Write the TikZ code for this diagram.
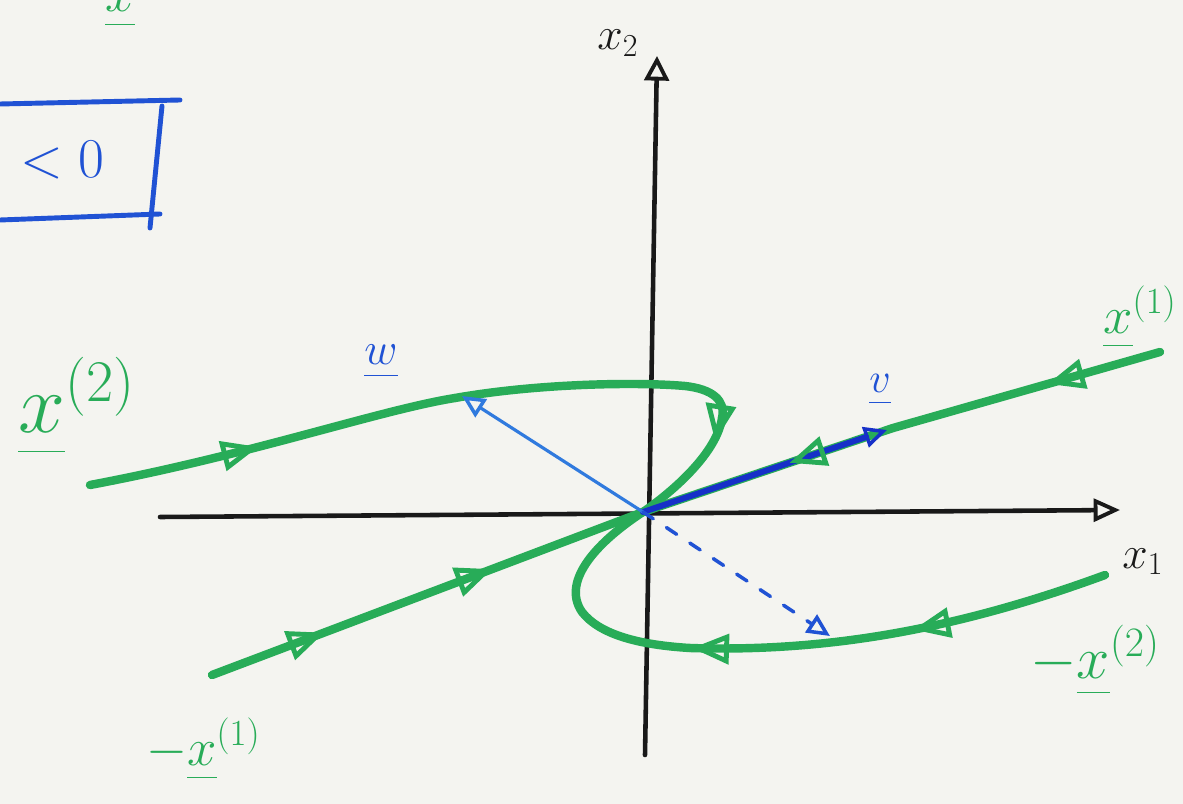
\documentclass[tikz,border=0pt]{standalone}
\usepackage{fix-cm}
\usetikzlibrary{arrows.meta,decorations.markings}
\definecolor{paper}{RGB}{244,244,240}
\definecolor{pen}{RGB}{40,172,88}
\definecolor{bluepen}{RGB}{32,82,212}
\definecolor{darkblue}{RGB}{22,48,200}
\definecolor{lightblue}{RGB}{48,122,222}
\definecolor{ink}{RGB}{25,25,25}
\newcommand{\uvec}[1]{\underline{#1\vphantom{y}}}
\begin{document}
\begin{tikzpicture}[x=0.02cm,y=-0.02cm,line cap=round,line join=round,
  traj/.style={draw=pen,line width=4.8pt},
  axis/.style={draw=ink,line width=2.6pt},
  gtip/.tip={Triangle[open,length=21pt,width=17pt,line width=2.8pt,color=pen]},
  btip/.tip={Triangle[open,length=13pt,width=12pt,line width=2pt]},
  ga/.style={postaction={decorate},decoration={markings,mark=at position #1 with {\arrow{gtip}}}},
  gaa/.style 2 args={postaction={decorate},decoration={markings,
     mark=at position #1 with {\arrow{gtip}},mark=at position #2 with {\arrow{gtip}}}},
  glabel/.style={text=pen,inner sep=0pt},
  blabel/.style={text=bluepen,inner sep=0pt},
  klabel/.style={text=ink,inner sep=0pt},
  boxline/.style={draw=bluepen,line width=2.8pt}]
\useasboundingbox (0,0) rectangle (1183,804);
\fill[paper] (0,0) rectangle (1183,804);

% named points
\coordinate (O) at (643,512);
\coordinate (x2top) at (657,56);
\coordinate (x2bot) at (645,755);
\coordinate (x1L) at (160,517);
\coordinate (x1R) at (1120,510);
\coordinate (e1) at (1160,352);
\coordinate (g1) at (893,428);
\coordinate (vtip) at (887,430);
\coordinate (e2) at (212,675);
\coordinate (wtip) at (462,396);
\coordinate (dtip) at (830,636);
\coordinate (a0) at (90,485);
\coordinate (a1) at (455,398);
\coordinate (a2) at (722,418);
\coordinate (hk1) at (722,398);
\coordinate (hk2) at (715,442);
\coordinate (b0) at (1105,575);
\coordinate (b1) at (690,648);

% box (partially outside)
\draw[boxline] (0,104) -- (180,100);
\draw[boxline] (162,106) -- (150,228);
\draw[boxline] (0,220) -- (160,214);
\node[blabel,anchor=base west,font=\fontsize{32}{36}\selectfont] (cond) at (20,178) {$<0$};

% partial label at the top
\node[glabel,anchor=base west,font=\fontsize{30}{34}\selectfont] (topx) at (64,12) {$-\uvec{x}$};

% axes
\draw[axis,-{Triangle[open,length=15pt,width=13pt,line width=2.2pt]}] (x1L) -- (x1R);
\draw[axis,-{Triangle[open,length=14pt,width=14pt,line width=2.2pt]}] (x2bot) -- (x2top);
\node[klabel,anchor=base west,font=\fontsize{26}{30}\selectfont] (lx2) at (597,50) {$x_2$};
\node[klabel,anchor=base west,font=\fontsize{26}{30}\selectfont] (lx1) at (1122,568) {$x_1$};

% eigen direction x^(1)
\draw[traj,ga=0.42] (e1) -- (g1);
\draw[traj] (g1) -- (O);
\draw[traj,gaa={0.26}{0.65}] (e2) -- (O);

% trajectory x^(2)
\draw[traj,ga=0.46] (a0) .. controls (250,455) and (380,410) .. (a1);
\draw[traj] (a1) .. controls (540,383) and (640,382) .. (685,386)
   .. controls (712,389) and (726,400) .. (a2);
\draw[traj] (a2) .. controls (717,452) and (675,490) .. (O);
\path[decorate,decoration={markings,mark=at position 0.98 with {\arrow{gtip}}}] (hk1) -- (hk2);
% trajectory -x^(2)
\draw[traj,gaa={0.47}{0.995}] (b0) .. controls (950,632) and (820,652) .. (b1);
\draw[traj] (b1) .. controls (640,645) and (600,635) .. (582,612)
   .. controls (560,580) and (600,540) .. (O);

% vectors
\draw[darkblue,line width=3.4pt,-{btip}] (O) -- (vtip);
\path[decorate,decoration={markings,mark=at position 0.4 with {\arrow{gtip}}}] (vtip) -- (O);
\draw[lightblue,line width=1.8pt,-{btip}] (O) -- (wtip);
\draw[bluepen,line width=2pt,dash pattern=on 7pt off 9pt,-{btip}] (O) -- (dtip);

% labels
\node[glabel,anchor=base west,font=\fontsize{48}{52}\selectfont] (lx2traj) at (18,432) {$\uvec{x}^{(2)}$};
\node[glabel,anchor=base west,font=\fontsize{30}{34}\selectfont] (lx1traj) at (1103,333) {$\uvec{x}^{(1)}$};
\node[glabel,anchor=base west,font=\fontsize{34}{38}\selectfont] (lmx2) at (1030,678) {$-\uvec{x}^{(2)}$};
\node[glabel,anchor=base west,font=\fontsize{30}{34}\selectfont] (lmx1) at (146,765) {$-\uvec{x}^{(1)}$};
\node[blabel,anchor=base,font=\fontsize{26}{30}\selectfont] (lw) at (381,364) {$\uvec{w}$};
\node[blabel,anchor=base,font=\fontsize{24}{28}\selectfont] (lv) at (880,392) {$\uvec{v}$};
\end{tikzpicture}
\end{document}
